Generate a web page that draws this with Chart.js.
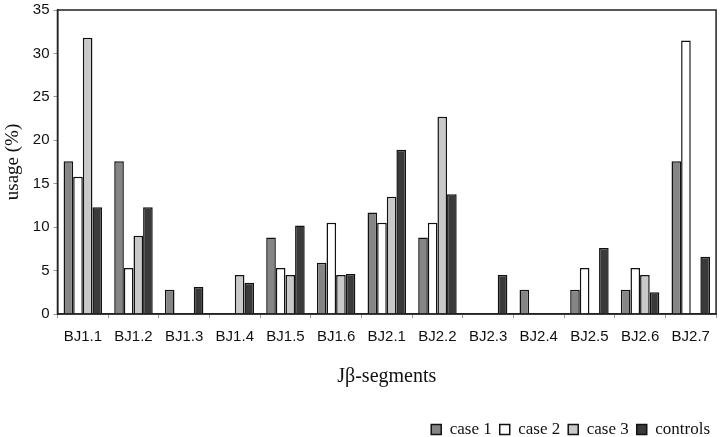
<!DOCTYPE html>
<html>
<head>
<meta charset="utf-8">
<script src="https://cdn.jsdelivr.net/npm/chart.js@4"></script>
<style>
  html, body { margin: 0; padding: 0; background: #fff; }
  #wrap { width: 720px; height: 437px; }
</style>
</head>
<body>
<div id="wrap"><canvas id="myChart"></canvas></div>
<script>
var segments = ["BJ1.1", "BJ1.2", "BJ1.3", "BJ1.4", "BJ1.5", "BJ1.6", "BJ2.1", "BJ2.2", "BJ2.3", "BJ2.4", "BJ2.5", "BJ2.6", "BJ2.7"];
var case1 = [17.6, 17.6, 2.8, 0, 8.8, 5.9, 11.7, 8.8, 0, 2.8, 2.8, 2.8, 17.6];
var case2 = [15.8, 5.3, 0, 0, 5.3, 10.5, 10.5, 10.5, 0, 0, 5.3, 5.3, 31.5];
var case3 = [31.8, 9.0, 0, 4.5, 4.5, 4.5, 13.5, 22.7, 0, 0, 0, 4.5, 0];
var controls = [12.3, 12.3, 3.1, 3.6, 10.2, 4.6, 18.9, 13.8, 4.5, 0, 7.6, 2.5, 6.6];
var yTicks = [0, 5, 10, 15, 20, 25, 30, 35];

var frame = {
  id: 'frame',
  afterDatasetsDraw: function(chart) {
    var a = chart.chartArea, c = chart.ctx;
    c.save();
    c.strokeStyle = '#222';
    c.lineWidth = 1.5;
    c.strokeRect(a.left, a.top, a.right - a.left, a.bottom - a.top);
    c.restore();
  }
};

function bar(label, data, color) {
  return {
    label: label,
    data: data,
    backgroundColor: color,
    borderColor: '#111',
    borderWidth: 1.5,
    borderSkipped: 'bottom'
  };
}

var ctx = document.getElementById('myChart').getContext('2d');
var chart = new Chart(ctx, {
  type: 'bar',
  data: {
    labels: segments,
    datasets: [
      bar('case 1', case1, '#858585'),
      bar('case 2', case2, '#ffffff'),
      bar('case 3', case3, '#c9c9c9'),
      bar('controls', controls, '#3a3a3a')
    ]
  },
  options: {
    responsive: true,
    maintainAspectRatio: false,
    animation: false,
    layout: { padding: { top: 0, right: 2, left: 2, bottom: -11 } },
    datasets: { bar: { barPercentage: 1, categoryPercentage: 0.76 } },
    plugins: {
      tooltip: { enabled: false },
      legend: {
        position: 'bottom',
        align: 'end',
        labels: {
          boxWidth: 10,
          boxHeight: 10,
          padding: 8,
          color: '#111',
          font: { family: 'Liberation Serif', size: 17 }
        }
      }
    },
    scales: {
      x: {
        grid: { display: true, drawOnChartArea: false, tickLength: 4, color: '#999' },
        border: { display: true, color: '#222', width: 1.5 },
        ticks: { color: '#111', padding: 10, maxRotation: 0, font: { family: 'Liberation Sans', size: 15 } },
        title: {
          display: true,
          text: 'Jβ-segments',
          color: '#111',
          padding: { top: 9, bottom: 24 },
          font: { family: 'Liberation Serif', size: 20 }
        }
      },
      y: {
        min: 0,
        max: 35,
        afterBuildTicks: function(axis) {
          axis.ticks = yTicks.map(function(v) { return { value: v }; });
        },
        grid: { display: true, drawOnChartArea: false, tickLength: 4, color: '#999' },
        border: { display: true, color: '#222', width: 1.5 },
        ticks: { color: '#111', padding: 4, font: { family: 'Liberation Sans', size: 15, lineHeight: 0.8 } },
        title: {
          display: true,
          text: 'usage (%)',
          color: '#111',
          padding: { top: 0, bottom: 4 },
          font: { family: 'Liberation Serif', size: 19 }
        }
      }
    }
  },
  plugins: [frame]
});
</script>
</body>
</html>
